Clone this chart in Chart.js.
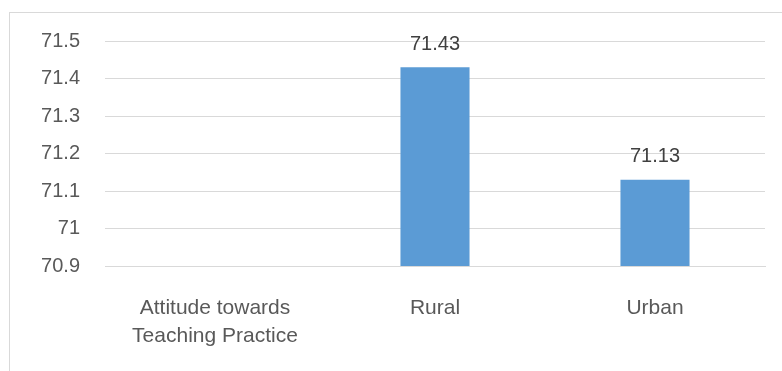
<!DOCTYPE html>
<html>
<head>
<meta charset="utf-8">
<script src="https://cdn.jsdelivr.net/npm/chart.js@4/dist/chart.umd.min.js"></script>
<style>
  html, body { margin: 0; padding: 0; background: #fff; overflow: hidden; }
  #wrap { position: relative; width: 782px; height: 371px; }
  #frame { position: absolute; left: 9px; top: 12px; width: 800px; height: 400px; border: 1px solid #d9d9d9; box-sizing: border-box; }
  canvas { position: absolute; left: 0; top: 0; }
</style>
</head>
<body>
<div id="wrap">
  <div id="frame"></div>
  <canvas id="chart" width="782" height="371"></canvas>
</div>
<script>
// Mean attitude scores by locality
const categories = [['Attitude towards', 'Teaching Practice'], 'Rural', 'Urban'];
const scores = [null, 71.43, 71.13];
const yTicks = [70.9, 71, 71.1, 71.2, 71.3, 71.4, 71.5];

const FONT = "'Liberation Sans', Arial, sans-serif";

// Writes each bar's value just above it
const valueLabels = {
  id: 'valueLabels',
  afterDatasetsDraw(chart) {
    const ctx = chart.ctx;
    const meta = chart.getDatasetMeta(0);
    ctx.save();
    ctx.font = '20px ' + FONT;
    ctx.fillStyle = '#404040';
    ctx.textAlign = 'center';
    ctx.textBaseline = 'bottom';
    meta.data.forEach((bar, i) => {
      const v = scores[i];
      if (v == null) return;
      ctx.fillText(v.toFixed(2), bar.x, bar.y - 13);
    });
    ctx.restore();
  }
};

new Chart(document.getElementById('chart'), {
  type: 'bar',
  data: {
    labels: categories,
    datasets: [{
      data: scores,
      backgroundColor: '#5b9bd5',
      borderWidth: 0,
      categoryPercentage: 1,
      barPercentage: 0.314
    }]
  },
  options: {
    responsive: false,
    animation: false,
    layout: { padding: { left: 0, top: 41, right: 17, bottom: 0 } },
    plugins: {
      legend: { display: false },
      tooltip: { enabled: false }
    },
    scales: {
      y: {
        min: 70.9,
        max: 71.5,
        afterBuildTicks(scale) {
          scale.ticks = yTicks.map(v => ({ value: v }));
        },
        afterFit(scale) { scale.width = 105; },
        border: { display: false },
        grid: { color: '#d9d9d9', lineWidth: 1, drawTicks: false },
        ticks: {
          padding: 25,
          color: '#595959',
          font: { family: FONT, size: 20 },
          callback: v => String(+v.toFixed(1))
        }
      },
      x: {
        afterFit(scale) { scale.height = 105; },
        border: { color: '#d9d9d9' },
        grid: { display: false, drawTicks: false },
        ticks: {
          padding: 29,
          color: '#595959',
          maxRotation: 0,
          font: { family: FONT, size: 21, lineHeight: 1.3 }
        }
      }
    }
  },
  plugins: [valueLabels]
});
</script>
</body>
</html>
